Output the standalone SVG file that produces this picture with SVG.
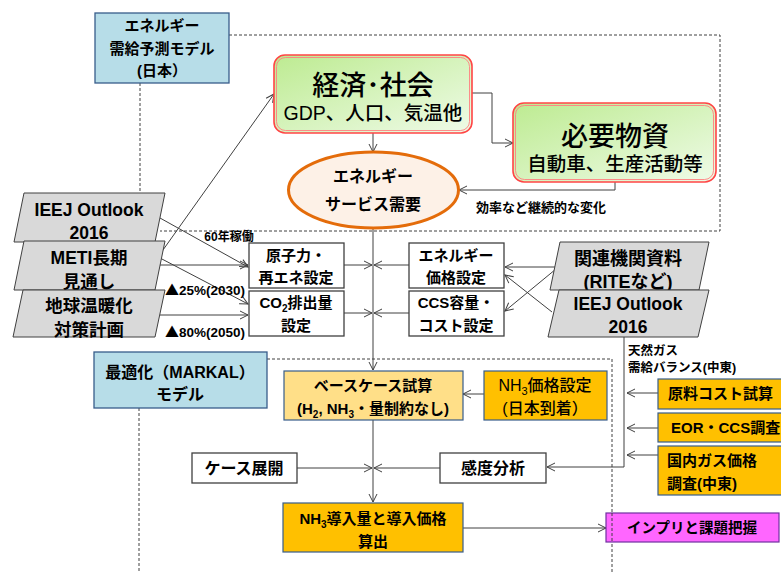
<svg xmlns="http://www.w3.org/2000/svg" width="781" height="572" viewBox="0 0 781 572">
<defs>
<marker id="a" markerWidth="10" markerHeight="10" refX="9" refY="5" orient="auto" markerUnits="userSpaceOnUse"><path d="M1,1 L9,5 L1,9" fill="none" stroke="#404040" stroke-width="1"/></marker>
<linearGradient id="g" x1="0" y1="0" x2="1" y2="1"><stop offset="0" stop-color="#bdeb91"/><stop offset="1" stop-color="#effbe8"/></linearGradient>
<style>
text{font-family:"Liberation Sans","Noto Sans CJK JP",sans-serif;text-anchor:middle;fill:#000}
.b{font-weight:bold}
.m{font-weight:500}
.tri{font-family:"Noto Sans CJK JP",sans-serif}
.dash{fill:none;stroke:#404040;stroke-width:1;stroke-dasharray:3,2}
.ln{fill:none;stroke:#404040;stroke-width:1}
.ar{fill:none;stroke:#404040;stroke-width:1;marker-end:url(#a)}
.blue{fill:#b7dde8;stroke:#385d8a;stroke-width:1.3}
.wb{fill:#fff;stroke:#404040;stroke-width:1.3}
.gray{fill:#d9d9d9;stroke:#404040;stroke-width:1}
.org{fill:#ffc000;stroke:#385d8a;stroke-width:1.2}
.grn{fill:url(#g);stroke:#ff4545;stroke-width:1.6}
.in{fill:none;stroke:#ff8080;stroke-width:0.9}
</style>
</defs>

<g id="regions">
<path class="dash" d="M229,35 H720 V231 H160"/>
<path class="dash" d="M140,83 V193"/>
<path class="dash" d="M267,359 H612 V572"/>
<path class="dash" d="M139,408 V572"/>
</g>

<g id="connectors">
<path class="ar" d="M158,257 L274,94"/>
<path class="ar" d="M160,218 L248,267"/>
<path class="ar" d="M160,265 H248"/>
<path class="ar" d="M160,258 L248,304"/>
<path class="ar" d="M160,315 H248"/>
<path class="ar" d="M472,93 H492 V143 H513"/>
<path class="ar" d="M373,133 V152"/>
<path class="ar" d="M615,182 V190 H459"/>
<path class="ar" d="M373,228 V370"/>
<path class="ar" d="M344,265 H372"/>
<path class="ar" d="M409,265 H374"/>
<path class="ar" d="M344,313 H372"/>
<path class="ar" d="M409,313 H374"/>
<path class="ar" d="M556,267 H505"/>
<path class="ar" d="M556,269 L505,311"/>
<path class="ar" d="M552,312 L505,275"/>
<path class="ar" d="M484,394 H463"/>
<path class="ar" d="M624,337 V467 H547"/>
<path class="ar" d="M658,393 H627"/>
<path class="ar" d="M658,428 H627"/>
<path class="ar" d="M658,455 H627"/>
<path class="ar" d="M297,468 H372"/>
<path class="ar" d="M440,468 H374"/>
<path class="ar" d="M373,420 V502"/>
<path class="ar" d="M463,528 H606"/>
</g>

<g id="labels">
<text class="b" x="229" y="241" font-size="12">60年稼働</text>
<text class="b" x="165" y="295" font-size="13.5" style="text-anchor:start"><tspan class="tri" font-size="14">▲</tspan>25%(2030)</text>
<text class="b" x="165" y="337" font-size="13.5" style="text-anchor:start"><tspan class="tri" font-size="14">▲</tspan>80%(2050)</text>
<text class="b" x="541" y="212" font-size="13">効率など継続的な変化</text>
<text class="b" x="628" y="355" font-size="12.5" style="text-anchor:start">天然ガス</text>
<text class="b" x="628" y="372" font-size="12.5" style="text-anchor:start">需給バランス(中東)</text>
</g>

<g id="n-jp-model">
<rect class="blue" x="95" y="13" width="134" height="70"/>
<text class="b" x="162" y="31" font-size="15">エネルギー</text>
<text class="b" x="162" y="54" font-size="15">需給予測モデル</text>
<text class="b" x="162" y="76" font-size="15">(日本）</text>
</g>

<g id="n-keizai">
<rect class="grn" x="274" y="55" width="198" height="78" rx="11"/>
<rect class="in" x="276.5" y="57.5" width="193" height="73" rx="9"/>
<text class="m" x="373" y="95" font-size="27" fill="#1c1c1c">経済･社会</text>
<text class="m" x="373" y="120" font-size="19.5" fill="#1c1c1c">GDP、人口、気温他</text>
</g>

<g id="n-busshi">
<rect class="grn" x="513" y="103" width="203" height="79" rx="11"/>
<rect class="in" x="515.5" y="105.5" width="198" height="74" rx="9"/>
<text class="m" x="615" y="146" font-size="27" fill="#1c1c1c">必要物資</text>
<text class="m" x="615" y="171" font-size="19.5" fill="#1c1c1c">自動車、生産活動等</text>
</g>

<g id="n-service">
<ellipse cx="373.5" cy="190" rx="85" ry="38" fill="#fdf1e7" stroke="#e46c0a" stroke-width="3"/>
<text class="b" x="373" y="182" font-size="16">エネルギー</text>
<text class="b" x="373" y="210" font-size="16">サービス需要</text>
</g>

<g id="n-ieej-left">
<polygon class="gray" points="24,193 165,193 155,242 14,242"/>
<text class="b" x="89" y="216" font-size="17.5">IEEJ Outlook</text>
<text class="b" x="89" y="239" font-size="17.5">2016</text>
</g>
<g id="n-meti">
<polygon class="gray" points="24,241 165,241 155,290 14,290"/>
<text class="b" x="89" y="264" font-size="17.5">METI長期</text>
<text class="b" x="89" y="288" font-size="17.5">見通し</text>
</g>
<g id="n-ondanka">
<polygon class="gray" points="23,290 165,290 155,337 13,337"/>
<text class="b" x="89" y="312" font-size="17.5">地球温暖化</text>
<text class="b" x="89" y="336" font-size="17.5">対策計画</text>
</g>

<g id="n-genshiryoku">
<rect class="wb" x="249" y="243" width="95" height="45"/>
<text class="b" x="296" y="261" font-size="15">原子力・</text>
<text class="b" x="296" y="283" font-size="15">再エネ設定</text>
</g>
<g id="n-co2">
<rect class="wb" x="249" y="291" width="95" height="45"/>
<text class="b" x="296" y="308" font-size="15">CO<tspan font-size="10" dy="4">2</tspan><tspan dy="-4">排出量</tspan></text>
<text class="b" x="296" y="331" font-size="15">設定</text>
</g>
<g id="n-energy-price">
<rect class="wb" x="409" y="243" width="95" height="45"/>
<text class="b" x="456" y="261" font-size="15">エネルギー</text>
<text class="b" x="456" y="283" font-size="15">価格設定</text>
</g>
<g id="n-ccs">
<rect class="wb" x="409" y="291" width="95" height="45"/>
<text class="b" x="456" y="308" font-size="15">CCS容量・</text>
<text class="b" x="456" y="331" font-size="15">コスト設定</text>
</g>

<g id="n-rite">
<polygon class="gray" points="560,242 709,242 699,290 550,290"/>
<text class="b" x="628" y="265" font-size="18">関連機関資料</text>
<text class="b" x="628" y="288" font-size="18">(RITEなど)</text>
</g>
<g id="n-ieej-right">
<polygon class="gray" points="559,290 709,290 698,337 548,337"/>
<text class="b" x="628" y="310" font-size="17.5">IEEJ Outlook</text>
<text class="b" x="628" y="333" font-size="17.5">2016</text>
</g>

<g id="n-markal">
<rect class="blue" x="94" y="352" width="173" height="56"/>
<text class="b" x="180" y="378" font-size="16">最適化（MARKAL）</text>
<text class="b" x="180" y="400" font-size="16">モデル</text>
</g>

<g id="n-base">
<rect x="284" y="371" width="179" height="49" fill="#ffdf88" stroke="#385d8a" stroke-width="1.2"/>
<text class="b" x="373" y="391" font-size="15">ベースケース試算</text>
<text class="b" x="373" y="414" font-size="15">(H<tspan font-size="10" dy="4">2</tspan><tspan dy="-4">, NH</tspan><tspan font-size="10" dy="4">3</tspan><tspan dy="-4">・量制約なし)</tspan></text>
</g>
<g id="n-nh3price">
<rect class="org" x="484" y="371" width="123" height="49"/>
<text class="m" x="545" y="391" font-size="16">NH<tspan font-size="11" dy="4">3</tspan><tspan dy="-4">価格設定</tspan></text>
<text class="m" x="545" y="414" font-size="16">(日本到着）</text>
</g>

<g id="n-genryo">
<rect class="org" x="658" y="379" width="124" height="30"/>
<text class="b" x="668" y="399" font-size="15" style="text-anchor:start">原料コスト試算</text>
</g>
<g id="n-eor">
<rect class="org" x="658" y="413" width="124" height="29"/>
<text class="b" x="671" y="433" font-size="15" style="text-anchor:start">EOR・CCS調査</text>
</g>
<g id="n-gasprice">
<rect class="org" x="658" y="446" width="124" height="49"/>
<text class="b" x="667" y="466" font-size="15" style="text-anchor:start">国内ガス価格</text>
<text class="b" x="667" y="489" font-size="15" style="text-anchor:start">調査(中東)</text>
</g>

<g id="n-case">
<rect class="wb" x="192" y="453" width="105" height="30"/>
<text class="b" x="244" y="474" font-size="16">ケース展開</text>
</g>
<g id="n-kando">
<rect class="wb" x="440" y="453" width="106" height="30"/>
<text class="b" x="493" y="474" font-size="16">感度分析</text>
</g>

<g id="n-result">
<rect class="org" x="283" y="503" width="180" height="49"/>
<text class="b" x="373" y="524" font-size="15">NH<tspan font-size="10" dy="4">3</tspan><tspan dy="-4">導入量と導入価格</tspan></text>
<text class="b" x="373" y="547" font-size="15">算出</text>
</g>

<g id="n-impli">
<rect x="606" y="513" width="173" height="29" fill="#ff66ff" stroke="#7030a0" stroke-width="1.2"/>
<text class="b" x="692" y="533" font-size="14.5">インプリと課題把握</text>
</g>

<path class="dash" d="M612,513 V542"/>
</svg>
